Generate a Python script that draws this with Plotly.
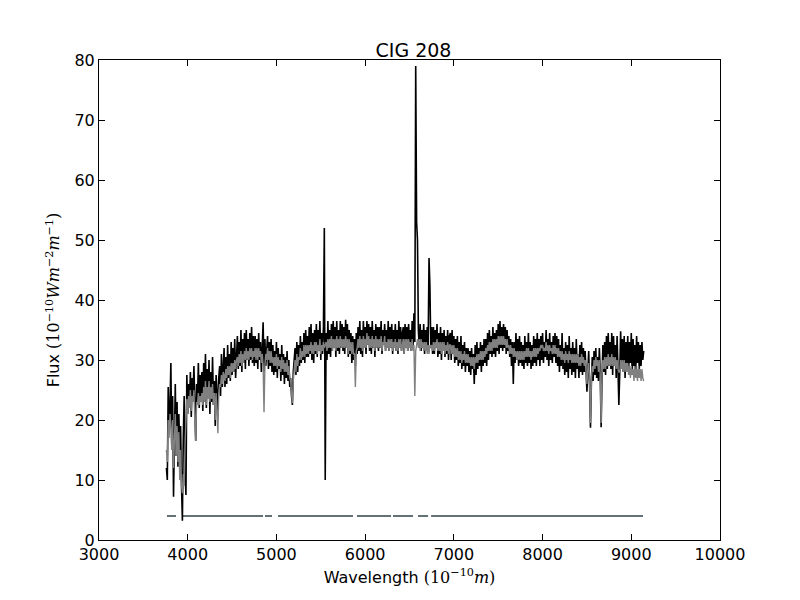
"""Observed vs. synthetic spectrum of CIG 208, with the good-pixel mask drawn at flux 4.

Outputs: out.html
"""
import plotly.graph_objects as go

# spectrum sampling (Angstrom): first pixel and dispersion
wave_start = 3760
wave_step = 10

# observed flux, 20 pixels per row (row start wavelength in comment)
flux_obs = [
    12, 10, 25.5, 18, 22, 29.5, 16, 24, 7.2, 19, 26, 14, 23, 12.2, 21, 15, 19, 9, 3.2, 17,                  # 3760
    24, 12, 7.5, 27.5, 21, 26, 22.5, 28, 20.5, 27, 24, 29, 21, 16.5, 26, 23, 29.5, 22, 27.5, 24,            # 3960
    28, 21.5, 29.5, 23, 31, 22, 28.5, 24, 30, 21, 28, 23, 30.5, 22.5, 26.5, 19, 27.5, 23, 21.5, 27,         # 4160
    29, 24, 31, 25.5, 29, 32, 25.5, 30.5, 26, 32.5, 27, 31, 26.5, 33, 27.5, 32, 28, 33.5, 27, 32,           # 4360
    34, 28.5, 33, 29, 35, 28, 33.5, 29.5, 34.5, 28.5, 35, 30, 33.5, 29, 34.5, 30, 35.5, 29.5, 34, 29,       # 4560
    34, 29.5, 33.5, 28.5, 34.5, 30, 33, 28, 32.5, 36.3, 28, 33.5, 29, 32, 34, 28.5, 33, 29, 33.5, 28,       # 4760
    32.5, 27.5, 31.5, 28, 33, 27, 32, 28.5, 31, 26.5, 32.5, 27.5, 31, 26, 30.5, 27, 31.5, 26.5, 30, 25.5,   # 4960
    27, 24, 22.5, 28, 30, 32, 27.5, 33, 28, 32.5, 29, 34, 29.5, 33, 30, 34.5, 29.5, 35, 30.5, 34,           # 5160
    30.5, 35.5, 31, 36, 30, 34.5, 29.5, 35, 31, 36, 30.5, 35, 31.5, 36.5, 30, 34.5, 31, 35.5, 52, 10,       # 5360
    34.5, 30, 36.5, 31, 35, 30.5, 36, 31.5, 36.5, 32, 35.5, 30.5, 36.5, 31.5, 35, 31, 36.5, 32, 36, 31.5,   # 5560
    35.5, 31, 36.7, 32, 36, 30.5, 35, 31, 34.5, 29.5, 34, 30, 33.5, 29, 34.5, 31, 35.5, 31.5, 36.5, 31,     # 5760
    35, 30.5, 36.5, 32, 35.5, 31, 36.5, 32.5, 36, 31.5, 35.5, 31, 36.5, 32, 35, 30.5, 36, 32, 35.5, 31.5,   # 5960
    35.5, 32, 36.5, 31, 35, 32.5, 36, 31.5, 35, 32, 36.5, 31.5, 35.5, 32, 36, 31, 35, 32.5, 36, 31.5,       # 6160
    35, 31, 36.5, 32, 35.5, 31.5, 34.5, 35.5, 31, 36, 32, 35.5, 31.5, 36, 32.5, 35, 31.5, 36.5, 32, 37.8,   # 6360
    33, 79, 53, 50, 35, 32, 36, 31.5, 35, 32, 36, 31, 35, 32.5, 35.5, 32, 47, 42.5, 32, 35.5,               # 6560
    31, 35.5, 31, 35, 32, 36, 30.5, 34.5, 31, 35.5, 30, 34.5, 31.5, 35, 30.5, 34, 31, 35, 30, 34,           # 6760
    34.5, 30, 35, 31, 34, 29.5, 33.5, 30, 34, 29, 33, 29.5, 34, 28.5, 32.5, 29, 33, 28, 32, 29,             # 6960
    32, 28, 31.5, 27.5, 32, 28.5, 31, 26, 32.5, 27.5, 33, 28.5, 32, 29, 33, 28, 32.5, 29, 33.5, 29.5,       # 7160
    33.5, 29, 34.5, 30, 35, 31, 34, 30.5, 35.5, 31, 34.5, 30.5, 35, 31.5, 36, 31, 36.5, 32, 35.5, 31.5,     # 7360
    36, 32, 35.5, 31, 35, 31.5, 34, 30.5, 33.5, 29, 33, 26, 33, 29.5, 34.5, 30, 33.5, 29, 34, 29.5,         # 7560
    33, 29, 32.5, 28.5, 34, 29.5, 33, 29, 34.5, 29.5, 33, 28.5, 32.5, 29, 34, 29.5, 33.5, 29, 34.5, 30,     # 7760
    33.5, 29, 34, 30, 34.5, 29.5, 33, 30.5, 35, 30, 33.5, 29, 34.5, 30, 33, 29.5, 34, 30.5, 34.5, 29.5,     # 7960
    34, 29, 33.5, 28, 32.5, 29, 34.5, 28.5, 32, 27.5, 33, 28, 32.5, 27, 34, 28.5, 32, 27.5, 33, 28,         # 8160
    32, 27, 33.5, 28.5, 31, 27, 32.5, 28, 33, 27.5, 32, 28, 31.5, 26.5, 24.7, 28, 31.5, 26, 18.7, 26,       # 8360
    30.5, 26.5, 31.5, 27.5, 32, 27, 30.5, 26.5, 32, 28, 18.8, 27, 32.5, 28, 33, 27.5, 34, 28.5, 34.5, 29,   # 8560
    33, 28.5, 34.5, 27.5, 34, 29, 32.5, 27, 34, 28.5, 22.5, 28, 34.8, 29, 33.5, 28, 34, 27, 33, 29.5,       # 8760
    34, 28, 33, 29.5, 34.5, 27.5, 33.5, 29, 32.5, 28, 34, 29.5, 33, 28.5, 32.5, 29, 33, 30, 31.5,           # 8960
]

# synthetic (fitted) flux on the same pixels
flux_syn = [
    15, 13, 20, 17, 21, 19, 15, 20, 12, 18, 21, 14, 19, 13, 18, 10, 15, 9, 7.8, 11,                         # 3760
    9, 16, 19, 23.5, 21, 24, 22, 25, 21.5, 24, 23, 25, 20, 16.5, 23, 22.5, 24.5, 22.5, 24, 23,              # 3960
    24.5, 22.5, 25.5, 23, 26.5, 22.5, 25.5, 23.5, 26.5, 23, 25.5, 23.5, 26, 22.5, 24.5, 20, 24.5, 21.5, 17.8, 24.5,  # 4160
    26, 25.5, 27.5, 26, 28, 27.5, 26.5, 28.5, 27, 29, 27.5, 29, 27, 29.5, 28, 29.5, 28, 30, 28.5, 30,       # 4360
    30.5, 29, 31, 29.5, 31.5, 29, 31, 29.5, 31.5, 30, 32, 30, 31.5, 30, 32, 30.5, 32, 30, 31.5, 30.5,       # 4560
    32, 30, 32, 30, 32, 30.5, 31.5, 29.5, 31, 29, 21.3, 29, 31, 30, 32, 30, 31.5, 29.5, 31.5, 29.5,         # 4760
    30.5, 29, 30.5, 29, 31, 28.5, 30.5, 29, 30, 28, 30.5, 28.5, 30, 28, 29.5, 28, 30, 27.5, 29, 27,         # 4960
    26.5, 24.5, 22.8, 26.5, 28.5, 30, 28, 31, 29, 30.5, 30, 32, 30, 31.5, 30.5, 32.5, 30.5, 32.5, 31, 32.5, # 5160
    31, 32.5, 31.5, 33, 31, 32.5, 31, 33, 31.5, 33, 31, 32.5, 31.5, 33.5, 31, 32.5, 31.5, 33, 32, 32.5,     # 5360
    33, 31.5, 33.5, 32, 33.5, 32, 34, 31.5, 33.5, 32, 33.5, 31.5, 34, 32, 33.5, 32, 34, 32, 33.5, 32,       # 5560
    33.5, 32, 34, 32, 33.5, 31, 33.5, 31.5, 33, 31, 33, 31, 31, 25.5, 31.5, 32, 33.5, 32, 34, 32,           # 5760
    33.5, 31.5, 34, 32, 33.5, 32, 34.5, 32.5, 34, 32, 33.5, 32, 34, 32, 33.5, 31.5, 34, 32, 33.5, 32,       # 5960
    33.5, 32, 34, 31.5, 33, 32.5, 34, 31.5, 33, 32, 33.5, 31.5, 33.5, 32, 33.5, 31.5, 33, 32, 33.5, 31.5,   # 6160
    33, 31.5, 33.5, 32, 33.5, 31.5, 33, 33.5, 31, 33.5, 32, 33.5, 31.5, 33.5, 32, 33, 31.5, 33.5, 31.5, 32.5,  # 6360
    24, 31.5, 32.5, 33.5, 32, 33.5, 31.5, 33.5, 32, 33, 31.5, 33, 31.5, 33, 31, 32.5, 31, 32.5, 32, 32.5,   # 6560
    31.5, 33, 31.5, 33, 32, 33.5, 31.5, 33, 31.5, 33, 31, 33, 31.5, 33, 31, 32.5, 31.5, 33, 31, 32.5,       # 6760
    32.5, 31, 32.5, 31, 32.5, 30.5, 32, 30.5, 32, 30, 31.5, 30, 31.5, 29.5, 31, 30, 31.5, 29.5, 31, 29.5,   # 6960
    31, 29.5, 30.5, 29, 30.5, 29, 30.5, 28.5, 30.5, 29.5, 31, 29.5, 31, 30, 31.5, 30, 31.5, 30, 31.5, 30.5, # 7160
    32, 31, 32.5, 31.5, 33, 31.5, 33, 31.5, 33.5, 32, 33.5, 32, 33.5, 32, 34, 32.5, 34, 32.5, 34, 32.5,     # 7360
    34, 32.5, 33.5, 32, 33.5, 32, 32.5, 31, 32.5, 31, 32, 30.5, 32, 30.5, 31.5, 30, 31.5, 30, 31.5, 30,     # 7560
    31.5, 30, 31.5, 30, 31.5, 30.5, 32, 30.5, 32, 30.5, 31.5, 30, 31.5, 30.5, 32, 30.5, 32, 30.5, 32, 31,   # 7760
    32, 31.5, 32.5, 32, 32.5, 31.5, 32, 31.5, 33, 31.5, 32.5, 31, 32.5, 31.5, 32, 31, 32.5, 31, 32.5, 31,   # 7960
    32, 30.5, 32, 30.5, 31.5, 30, 31.5, 30, 31, 29.5, 31.5, 30, 31, 29.5, 31.5, 30, 31, 29.5, 31, 29.5,     # 8160
    31, 29.5, 31, 29.5, 31, 29, 30.5, 29, 31, 29.5, 30.5, 29, 30, 28, 26, 28.5, 29.5, 26.5, 19.5, 26.5,     # 8360
    29, 28, 30, 28.5, 30.5, 29, 30, 28, 30, 27.5, 19.5, 27.5, 30, 28.5, 30.5, 28.5, 30.5, 29, 31, 29,       # 8560
    30.5, 29, 31, 29, 30.5, 29, 30.5, 28.5, 30, 28.5, 28, 28, 30, 28.5, 30, 28, 30, 28, 29.5, 28,           # 8760
    29.5, 27.5, 29, 27, 29, 27.5, 28.5, 26.5, 29, 27, 28.5, 26.5, 29, 27, 28.5, 26.5, 28.5, 27, 26.5,       # 8960
]
assert len(flux_obs) == len(flux_syn)

# good-pixel mask: (start, end) wavelength of each unmasked stretch
mask_segments = [
    (3766, 3868), (3936, 4849), (4871, 4950), (5018, 5863),
    (5908, 6292), (6314, 6540), (6596, 6709), (6743, 9132),
]
mask_level = 4

waves = [wave_start + i * wave_step for i in range(len(flux_obs))]

# mask as one trace with None breaks between stretches
mask_x, mask_y = [], []
for w0, w1 in mask_segments:
    mask_x += [w0, w1, None]
    mask_y += [mask_level, mask_level, None]

fig = go.Figure()
fig.add_trace(go.Scatter(x=mask_x, y=mask_y, mode='lines',
                         line=dict(color='#627176', width=2)))
fig.add_trace(go.Scatter(x=waves, y=flux_obs, mode='lines',
                         line=dict(color='black', width=1.6)))
fig.add_trace(go.Scatter(x=waves, y=flux_syn, mode='lines',
                         line=dict(color='#808080', width=1.4)))

math = '<span style="font-family:DejaVu Serif">'
axis_common = dict(showgrid=False, zeroline=False, showline=True, linecolor='black',
                   linewidth=1, mirror='ticks', ticks='inside', ticklen=6,
                   tickcolor='black', tickfont=dict(size=16, color='black'))

# page body has an 8px margin, so the figure is 8px smaller than the window
fig.update_layout(
    width=792, height=592,
    paper_bgcolor='white', plot_bgcolor='white',
    font=dict(family='DejaVu Sans', color='black'),
    showlegend=False,
    margin=dict(l=91, r=80, t=52, b=60),
    title=dict(text='CIG 208', x=0.512, xanchor='center', y=0.917, yanchor='bottom',
               yref='container', font=dict(size=19, color='black')),
    xaxis=dict(range=[3000, 10000], dtick=1000, tickformat='d',
               title=dict(text='Wavelength ' + math + '(10<sup>−10</sup><i>m</i>)</span>',
                          font=dict(size=16), standoff=8),
               **axis_common),
    yaxis=dict(range=[0, 80], dtick=10,
               title=dict(text='Flux ' + math + '(10<sup>−10</sup><i>Wm</i><sup>−2</sup>'
                               '<i>m</i><sup>−1</sup>)</span>',
                          font=dict(size=16), standoff=10),
               **axis_common),
)

fig.write_html('out.html', config={'displayModeBar': False})
